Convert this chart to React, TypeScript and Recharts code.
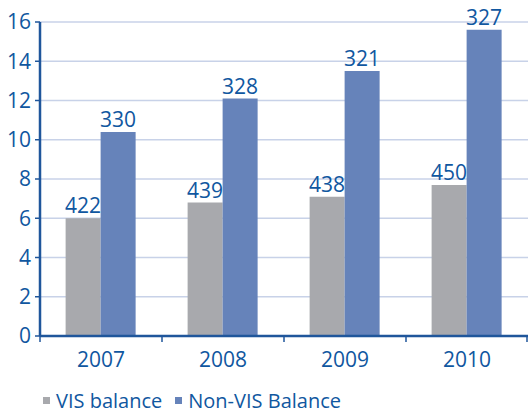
import { BarChart, Bar, XAxis, YAxis, CartesianGrid, Legend, LabelList } from "recharts"

const years = ["2007", "2008", "2009", "2010"]
const visBalance = [6.0, 6.8, 7.1, 7.7]
const nonVisBalance = [10.4, 12.1, 13.5, 15.6]
const visLabels = [422, 439, 438, 450]
const nonVisLabels = [330, 328, 321, 327]
const yTicks = [0, 2, 4, 6, 8, 10, 12, 14, 16]

const seriesNames = ["VIS balance", "Non-VIS Balance"]

const GRAY = "#a8a9ad"
const BLUE = "#6683ba"
const INK = "#1057a0"
const AXIS = "#1f569b"
const GRID = "#c8d2e8"
const FONT = "'Open Sans', sans-serif"

const TICK_SIZE = 10
const TICK_MARGIN = 6

const data = years.map((year, i) => ({
  year,
  vis: visBalance[i],
  nonVis: nonVisBalance[i],
  visLabel: visLabels[i],
  nonVisLabel: nonVisLabels[i],
}))

// year label plus the small tick marks at the category edges
function YearTick(props: any) {
  const { x, y, payload, index } = props
  const half = payload.offset || 0
  const axisY = y - TICK_SIZE - TICK_MARGIN
  const isLast = index === years.length - 1
  return (
    <g>
      <line x1={x - half} x2={x - half} y1={axisY} y2={axisY + 6} stroke={AXIS} strokeWidth={1.5} />
      {isLast && <line x1={x + half - 1} x2={x + half - 1} y1={axisY} y2={axisY + 6} stroke={AXIS} strokeWidth={1.5} />}
      <text x={x} y={y} dy="0.71em" textAnchor="middle" fill={INK} fontSize={21} fontFamily={FONT}>
        {payload.value}
      </text>
    </g>
  )
}

function LegendBox() {
  const colors = [GRAY, BLUE]
  return (
    <div style={{ display: "flex", alignItems: "center", height: 39, paddingTop: 10, boxSizing: "border-box", fontFamily: FONT, fontSize: 20, color: INK }}>
      {seriesNames.map((name, i) => (
        <div key={name} style={{ display: "flex", alignItems: "center", marginLeft: i === 0 ? 43 : 13 }}>
          <span style={{ width: 7, height: 7, background: colors[i], marginRight: 6, display: "inline-block" }} />
          <span>{name}</span>
        </div>
      ))}
    </div>
  )
}

export default function App() {
  return (
    <div style={{ position: "absolute", left: 0, top: 0 }}>
      <BarChart
        width={528}
        height={415}
        data={data}
        margin={{ top: 22, right: 0, left: 0, bottom: 0 }}
        barCategoryGap="21%"
        barGap={0}
      >
        <CartesianGrid vertical={false} stroke={GRID} strokeWidth={1.5} />
        <XAxis
          dataKey="year"
          height={40}
          tickLine={false}
          tickSize={TICK_SIZE}
          tickMargin={TICK_MARGIN}
          axisLine={{ stroke: AXIS, strokeWidth: 2.5 }}
          tick={<YearTick />}
        />
        <YAxis
          width={40}
          domain={[0, 16]}
          ticks={yTicks}
          interval={0}
          tickSize={5}
          tickMargin={4}
          axisLine={{ stroke: AXIS, strokeWidth: 2.5 }}
          tickLine={{ stroke: AXIS, strokeWidth: 1.5 }}
          tick={{ fill: INK, fontSize: 21, fontFamily: FONT }}
        />
        <Legend verticalAlign="bottom" height={39} content={() => <LegendBox />} />
        <Bar dataKey="vis" name={seriesNames[0]} fill={GRAY} isAnimationActive={false}>
          <LabelList dataKey="visLabel" position="top" offset={5} fill={INK} fontSize={21} fontFamily={FONT} />
        </Bar>
        <Bar dataKey="nonVis" name={seriesNames[1]} fill={BLUE} isAnimationActive={false}>
          <LabelList dataKey="nonVisLabel" position="top" offset={5} fill={INK} fontSize={21} fontFamily={FONT} />
        </Bar>
      </BarChart>
    </div>
  )
}
